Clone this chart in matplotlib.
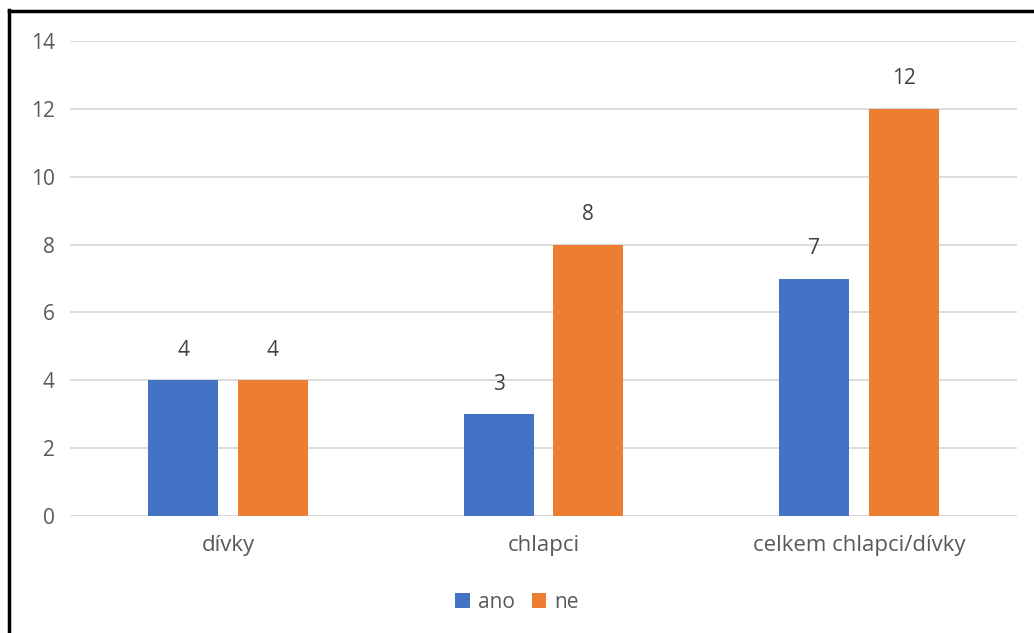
import numpy as np
import matplotlib.pyplot as plt
from matplotlib.lines import Line2D

# data
categories = ["dívky", "chlapci", "celkem chlapci/dívky"]
ano = [4, 3, 7]
ne = [4, 8, 12]
series_names = ["ano", "ne"]
yticks = [0, 2, 4, 6, 8, 10, 12, 14]

blue = "#4472C4"
orange = "#ED7D31"
grey_txt = "#595959"

plt.rcParams['font.family'] = ['Open Sans', 'DejaVu Sans']

fig = plt.figure(figsize=(10.34, 6.33), dpi=100)
ax = fig.add_axes([70/1034, 1 - 516/633, (1017-70)/1034, (516-41)/633])

x = np.arange(len(categories))
w = 0.222
off = 0.142
b1 = ax.bar(x - off, ano, w, color=blue, label=series_names[0], zorder=3)
b2 = ax.bar(x + off, ne, w, color=orange, label=series_names[1], zorder=3)

for bars in (b1, b2):
    for r in bars:
        ax.annotate(str(int(r.get_height())), (r.get_x() + r.get_width()/2, r.get_height()),
                    xytext=(0, 14), textcoords="offset points", ha="center", va="bottom",
                    fontsize=15, color="#404040")

ax.set_xlim(-0.5, 2.5)
ax.set_ylim(0, 14)
ax.set_yticks(yticks)
ax.set_xticks(x)
ax.set_xticklabels(categories, fontsize=16)
ax.yaxis.grid(True, color="#D9D9D9", linewidth=1.3, zorder=0)
ax.tick_params(axis="y", length=0, labelsize=15, colors=grey_txt, pad=11)
ax.tick_params(axis="x", length=0, colors=grey_txt, pad=14)
for s in ax.spines.values():
    s.set_visible(False)
ax.axhline(0, color="#D9D9D9", linewidth=1.3, zorder=2)

leg = fig.legend(handles=[b1, b2], loc="center", bbox_to_anchor=(0.5, 1 - 602/633), ncol=2,
                 frameon=False, fontsize=15, handlelength=0.7, handleheight=0.7,
                 handletextpad=0.4, columnspacing=0.8)
for t in leg.get_texts():
    t.set_color(grey_txt)

# black frame round the screenshot (left and top visible)
fig.add_artist(Line2D([9/1034, 9/1034], [0, 1 - 10/633], transform=fig.transFigure, color="black", linewidth=2.5))
fig.add_artist(Line2D([9/1034, 1], [1 - 11/633, 1 - 11/633], transform=fig.transFigure, color="black", linewidth=2.5))

fig.savefig("out.png", dpi=100)
